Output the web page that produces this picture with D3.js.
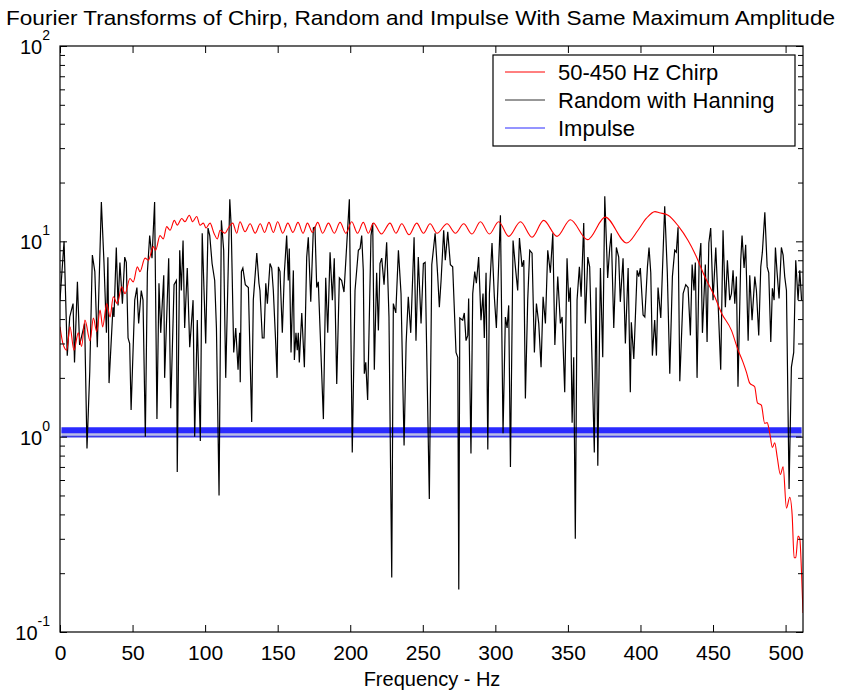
<!DOCTYPE html>
<html>
<head>
<meta charset="utf-8">
<script src="https://cdn.jsdelivr.net/npm/d3@7/dist/d3.min.js"></script>
<style>
body{margin:0;background:#fff;}
text{font-family:"Liberation Sans",Arial,Helvetica,sans-serif;fill:#000;}
</style>
</head>
<body>
<svg id="chart" width="856" height="693"></svg>
<script>
// 数据
var xTicks = [0, 50, 100, 150, 200, 250, 300, 350, 400, 450, 500];
var yDecades = [0.1, 1, 10, 100];
var yExponents = ["-1", "0", "1", "2"];

var chirpFreq = [0, 2, 4.6, 6.9, 9.6, 12.6, 14.9, 17.2, 20.7, 23, 25.3, 27.6, 29.4, 32.2, 34.5, 36.7, 39.5, 42.5, 44.8, 48.2,
  50.5, 53.3, 55.1, 58.6, 60.9, 64.3, 65.9, 68.9, 71.2, 73.5, 75.8, 78.8, 80.8, 83.9, 86.1, 89.1, 91.4, 94.2, 96.5, 98.8,
  100.6, 103.4, 106.1, 108.4, 110.3, 113.7, 116, 119, 121.8, 124, 127.5, 131, 134.5, 138, 141, 144, 147, 150, 153.5, 157,
  160.5, 164, 167.5, 170.5, 174, 177.6, 181, 185, 189, 193, 197, 201, 205, 209, 212.5, 216, 221.5, 227.4, 231.5, 235.5,
  240.5, 245.8, 250.5, 255, 259.8, 266.7, 272.5, 278.2, 283.9, 289.7, 295.9, 302.3, 309.2, 317.3, 325.3, 333.3, 342.5, 351.7, 363.5, 375.7,
  390.5, 398.3, 404, 410, 413, 419, 426, 432.8, 437.4, 444.3, 451.2, 455.8, 462.7, 467.3, 470.7, 473, 475.3, 478.7, 480.6, 483.3,
  485.6, 487.3, 489.1, 490.9, 492.5, 494.3, 496.4, 498.3, 500.6, 502.9, 504.5, 505.9, 507, 508.6, 509.8, 511, 512];
var chirpAmp = [3.65, 3.0, 2.77, 3.65, 2.77, 3.4, 2.9, 3.95, 3.1, 4.05, 3.45, 4.45, 3.65, 4.8, 4.1, 5.2, 4.8, 5.85, 5.4, 6.45,
  6.2, 7.4, 7.0, 8.2, 8.0, 9.4, 9.0, 10.7, 10.3, 11.9, 11.4, 12.8, 12.1, 13.1, 12.6, 13.6, 12.6, 13.4, 12.1, 12.4,
  11.7, 12.4, 11.0, 10.3, 11.4, 11.0, 11.7, 12.4, 11.0, 12.6, 11.2, 12.3, 11.0, 12.3, 11.1, 12.5, 11.1, 12.6, 11.0, 12.4,
  11.1, 12.5, 11.0, 12.4, 11.1, 12.5, 11.0, 12.4, 11.0, 12.5, 11.0, 12.6, 11.0, 12.5, 11.0, 12.4, 10.9, 12.4, 11.0, 12.3,
  10.8, 12.4, 11.0, 12.3, 11.0, 12.3, 11.0, 12.3, 10.9, 12.6, 10.9, 12.6, 10.6, 12.6, 10.5, 12.8, 10.6, 12.9, 10.2, 13.3,
  9.8, 11.4, 13.1, 14.2, 14.0, 13.6, 12.0, 10.1, 8.7, 6.6, 5.2, 4.3, 3.5, 2.77, 2.4, 2.14, 1.88, 1.8, 1.49, 1.45,
  1.17, 1.18, 1.04, 0.88, 0.93, 0.78, 0.64, 0.70, 0.43, 0.49, 0.40, 0.24, 0.24, 0.31, 0.30, 0.20, 0.125];

var randomFreq = [0, 2.8, 5, 6.7, 9, 10, 12, 13.5, 17, 18.6, 20.5, 22.3, 24, 25.7, 28.5, 30.3, 32, 33, 33.8, 36.5,
  37.2, 38.8, 40, 41.3, 43, 44.6, 45.7, 46.9, 48, 49, 51.5, 53, 54.2, 56, 57.2, 58.8, 60.2, 61.8, 63.4, 65.2,
  66.8, 68.2, 69.4, 71.5, 72.1, 74.9, 76.3, 78.6, 80.2, 80.8, 82.5, 83.6, 84.8, 85.9, 87.7, 89.4, 91.7, 92.8, 94.6, 96.7,
  98, 100.4, 102, 103.2, 104.8, 106.6, 107.8, 109.6, 111.2, 112.8, 114.2, 117, 118, 119.7, 121.1, 122.7, 123.8, 124.2, 125, 126,
  127.7, 129.8, 132.1, 133.2, 135.6, 137.1, 137.8, 139.4, 140.6, 141.8, 142.9, 144.7, 145.9, 147, 148.7, 149.6, 150.5, 151.6, 153.2, 154.6,
  156.2, 157.3, 158, 159.2, 160.8, 161.5, 162.6, 163.5, 164.2, 164.9, 166.6, 168.4, 170, 171.1, 172.8, 174.6, 175.7, 176.9, 178, 181.5,
  183.1, 184.5, 186.1, 187.7, 189, 190.7, 192.5, 194.1, 195.7, 197.1, 199.4, 201.4, 203.3, 205.6, 206.8, 207.9, 209, 209.7, 210.7, 212,
  214.3, 215.5, 216.6, 218.2, 219.4, 220.5, 221.7, 223.3, 225.1, 226.7, 228.6, 229.7, 231.4, 233.2, 235, 237.1, 238.5, 240, 241.7, 244,
  245.3, 246.9, 248.8, 250.4, 251.6, 254.5, 256.2, 258.5, 260.3, 261.4, 262.6, 264.4, 265.5, 267.2, 269, 270.6, 272.9, 274.1, 274.8, 275.5,
  277.5, 278.6, 279.8, 281, 281.6, 283.2, 284.4, 285.8, 286.9, 288.5, 290.1, 291.5, 292.4, 293.6, 294.8, 295.9, 297.7, 299.3, 300.7, 303.5,
  305.3, 306.9, 308.1, 309.2, 310.4, 312.2, 313.8, 315.4, 316.6, 318.4, 319.6, 320.7, 322.3, 323.7, 325.3, 326.9, 328.3, 329.9, 331.5, 332.9,
  334.5, 336.1, 337.9, 339.6, 341, 343, 344.8, 346, 347.8, 349.4, 350.6, 351.7, 352.9, 354, 355.1, 356.3, 357.9, 359.1, 360.9, 362,
  363.7, 365, 366.6, 368.2, 369.4, 370.6, 372.4, 374, 375.4, 377.4, 378.8, 379.9, 381.6, 383.4, 385, 386.1, 388, 389.6, 391.5, 393,
  393.7, 395.4, 397.7, 398.8, 399.9, 401.8, 403, 404.8, 405.9, 407.1, 408.2, 409.8, 411, 412.1, 414, 416.7, 418.5, 420.2, 422, 423.6,
  424.7, 425.9, 427.1, 429.4, 431.2, 432.8, 434.4, 435.6, 436.9, 437.8, 439, 440.4, 441.6, 442.7, 444.7, 445.9, 447.1, 448.4, 450, 451.9,
  453.5, 455.3, 456.9, 458.5, 459.9, 461.5, 462.7, 463.8, 465, 466.1, 467.2, 469.1, 470, 471.4, 472.5, 474.2, 475.3, 476.9, 478.8, 479.9,
  481.5, 482.9, 484, 485.7, 487.3, 488.4, 489.8, 490.9, 492.1, 493, 494.1, 495.5, 497.1, 498.3, 499.4, 500.6, 502.4, 504, 505.6, 507,
  508.6, 509.8, 511];
var randomAmp = [5.0, 10, 2.6, 4.1, 4.8, 2.4, 6.2, 2.95, 3.8, 0.87, 2.15, 8.5, 7.0, 2.87, 15.9, 7.8, 3.4, 8.3, 1.88, 4.6,
  4.1, 9.3, 4.7, 7.8, 4.8, 8.3, 7.8, 3.2, 3.0, 1.37, 5.0, 5.8, 3.8, 5.6, 5.0, 1.0, 6.9, 10.7, 8.2, 15.9,
  1.23, 6.1, 3.4, 6.7, 2.0, 8.2, 1.4, 6.0, 6.3, 0.66, 9.0, 5.6, 10.1, 3.6, 7.3, 2.87, 5.0, 1.0, 3.95, 0.95,
  11.0, 3.0, 11.7, 10.7, 7.7, 6.3, 3.6, 0.5, 12.8, 9.0, 2.0, 16.4, 11.8, 2.7, 3.6, 2.2, 3.4, 1.9, 7.0, 7.3,
  6.0, 5.8, 1.19, 5.0, 8.7, 6.1, 5.6, 3.2, 3.2, 6.1, 4.8, 7.7, 7.3, 5.6, 2.95, 2.0, 7.4, 7.0, 3.4, 6.9,
  10.7, 6.3, 9.2, 2.7, 7.1, 2.47, 3.4, 2.77, 3.4, 2.4, 4.3, 2.27, 8.3, 10.5, 4.9, 11.7, 11.8, 5.8, 6.2, 1.23,
  6.5, 3.4, 8.8, 5.0, 8.2, 1.86, 6.5, 6.3, 5.5, 8.3, 16.4, 0.83, 5.6, 9.0, 9.2, 10.7, 7.1, 2.1, 2.4, 1.54,
  10.7, 12.4, 2.2, 6.9, 3.5, 7.7, 8.2, 6.0, 9.9, 4.1, 0.19, 4.8, 4.3, 9.0, 5.4, 0.9, 3.0, 5.2, 3.4, 10.5,
  3.1, 8.3, 3.8, 7.7, 7.8, 0.48, 7.6, 11.0, 6.6, 4.6, 6.3, 11.4, 8.0, 11.2, 7.6, 7.4, 2.7, 2.55, 0.165, 4.05,
  3.95, 4.3, 3.1, 3.3, 5.1, 0.82, 5.4, 7.0, 6.1, 8.3, 3.95, 5.4, 3.2, 6.9, 0.86, 5.4, 9.8, 5.2, 3.6, 13.6,
  1.04, 4.1, 3.6, 4.7, 0.7, 10.1, 7.4, 5.6, 10.4, 7.4, 8.0, 1.57, 5.0, 9.0, 8.7, 2.7, 4.8, 3.8, 2.27, 5.2,
  3.8, 9.0, 6.9, 11.0, 2.95, 6.6, 3.8, 4.1, 1.69, 8.2, 4.9, 5.8, 1.18, 2.55, 0.3, 5.0, 7.4, 5.2, 12.4, 3.8,
  8.3, 7.4, 2.5, 0.83, 5.8, 0.71, 7.3, 2.55, 17.0, 6.5, 9.2, 11.0, 3.6, 9.3, 8.3, 4.9, 8.2, 3.0, 7.3, 1.69,
  3.85, 2.5, 7.1, 6.6, 7.3, 4.2, 4.1, 7.4, 9.3, 6.9, 2.6, 3.95, 2.6, 5.8, 4.05, 15.1, 6.9, 2.1, 6.6, 9.0,
  8.8, 11.8, 1.92, 5.4, 6.0, 5.8, 3.3, 7.6, 5.6, 7.8, 2.0, 7.8, 9.8, 3.4, 7.6, 3.05, 9.8, 11.7, 5.0, 9.3,
  4.8, 2.2, 11.4, 4.6, 8.0, 5.0, 5.4, 7.1, 4.8, 6.6, 1.8, 8.0, 10.7, 7.3, 9.6, 3.1, 6.7, 3.95, 6.6, 5.6,
  3.3, 7.4, 8.8, 14.1, 7.4, 6.9, 3.05, 5.75, 5.0, 9.3, 7.0, 5.1, 9.3, 8.5, 6.6, 5.6, 0.54, 2.27, 2.7, 8.0,
  5.0, 7.1, 5.0];

var impulseFreq = [1, 511];
var impulseUpper = [1.08, 1.08];
var impulseLower = [1.0, 1.0];

var legendNames = ["50-450 Hz Chirp", "Random with Hanning", "Impulse"];
var legendColors = ["#ff0000", "#303030", "#2a2aff"];

var svg = d3.select("#chart");
var pLeft = 60, pRight = 803, pTop = 46, pBottom = 632;

var x = d3.scaleLinear().domain([0, 512]).range([pLeft, pRight]);
var y = d3.scaleLog().domain([0.1, 100]).range([pBottom, pTop]);

// 次刻度
var minorTicks = [];
yDecades.slice(0, 3).forEach(function (d) {
  for (var k = 2; k <= 9; k++) minorTicks.push(d * k);
});

svg.append("clipPath").attr("id", "clip")
  .append("rect").attr("x", pLeft).attr("y", pTop).attr("width", pRight - pLeft).attr("height", pBottom - pTop);

var plot = svg.append("g").attr("clip-path", "url(#clip)");

// impulse band
var impulse = impulseFreq.map(function (f, i) { return { f: f, hi: impulseUpper[i], lo: impulseLower[i] }; });
plot.append("path").datum(impulse)
  .attr("d", d3.area().x(function (d) { return x(d.f); }).y0(function (d) { return y(d.lo); }).y1(function (d) { return y(d.hi); }))
  .attr("fill", "#b9bce6");
plot.append("path").datum(impulse)
  .attr("d", d3.line().x(function (d) { return x(d.f); }).y(function (d) { return y(d.hi); }))
  .attr("fill", "none").attr("stroke", "#2a2aff").attr("stroke-width", 6);
plot.append("path").datum(impulse)
  .attr("d", d3.line().x(function (d) { return x(d.f); }).y(function (d) { return y(d.lo); }))
  .attr("fill", "none").attr("stroke", "#3a3ae8").attr("stroke-width", 1.6);

// random
var random = randomFreq.map(function (f, i) { return [f, randomAmp[i]]; });
plot.append("path").datum(random)
  .attr("d", d3.line().x(function (d) { return x(d[0]); }).y(function (d) { return y(d[1]); }))
  .attr("fill", "none").attr("stroke", "#000").attr("stroke-width", 1.2).attr("stroke-linejoin", "miter");

// chirp
var chirp = chirpFreq.map(function (f, i) { return [f, chirpAmp[i]]; });
plot.append("path").datum(chirp)
  .attr("d", d3.line().curve(d3.curveMonotoneX).x(function (d) { return x(d[0]); }).y(function (d) { return y(d[1]); }))
  .attr("fill", "none").attr("stroke", "#ff0000").attr("stroke-width", 1.1);

// axes
var tl = 7;
svg.append("g").attr("transform", "translate(0," + pBottom + ")")
  .call(d3.axisBottom(x).tickValues(xTicks).tickSizeInner(-tl).tickSizeOuter(0).tickPadding(13).tickFormat(d3.format("d")))
  .call(function (g) { g.select(".domain").remove(); g.selectAll("text").attr("font-size", 21).attr("font-family", "Liberation Sans, Arial, sans-serif"); });
svg.append("g").attr("transform", "translate(0," + pTop + ")")
  .call(d3.axisTop(x).tickValues(xTicks).tickSizeInner(-tl).tickSizeOuter(0).tickFormat(""))
  .call(function (g) { g.select(".domain").remove(); });

[[d3.axisLeft, pLeft], [d3.axisRight, pRight]].forEach(function (a) {
  svg.append("g").attr("transform", "translate(" + a[1] + ",0)")
    .call(a[0](y).tickValues(yDecades).tickSizeInner(-tl).tickSizeOuter(0).tickFormat(""))
    .call(function (g) { g.select(".domain").remove(); });
  svg.append("g").attr("transform", "translate(" + a[1] + ",0)")
    .call(a[0](y).tickValues(minorTicks).tickSizeInner(-5).tickSizeOuter(0).tickFormat(""))
    .call(function (g) { g.select(".domain").remove(); });
});

svg.append("rect").attr("x", pLeft).attr("y", pTop).attr("width", pRight - pLeft).attr("height", pBottom - pTop)
  .attr("fill", "none").attr("stroke", "#000").attr("stroke-width", 1.2);

// y labels 10^n
var yl = svg.append("g");
yDecades.forEach(function (d, i) {
  var t = yl.append("text").attr("x", 50).attr("y", y(d) + 8).attr("text-anchor", "end").attr("font-size", 20);
  t.append("tspan").text("10");
  t.append("tspan").attr("font-size", 14).attr("dy", -14).text(yExponents[i]);
});

// title & x label
svg.append("text").attr("x", 6).attr("y", 25).attr("font-size", 21)
  .attr("textLength", 829).attr("lengthAdjust", "spacingAndGlyphs")
  .text("Fourier Transforms of Chirp, Random and Impulse With Same Maximum Amplitude");
svg.append("text").attr("x", 432).attr("y", 686).attr("text-anchor", "middle").attr("font-size", 20)
  .text("Frequency - Hz");

// legend
var lg = svg.append("g");
lg.append("rect").attr("x", 493).attr("y", 55).attr("width", 302).attr("height", 91)
  .attr("fill", "#fff").attr("stroke", "#000").attr("stroke-width", 1.2);
legendNames.forEach(function (name, i) {
  var cy = 72 + i * 28;
  lg.append("line").attr("x1", 505).attr("x2", 545).attr("y1", cy).attr("y2", cy)
    .attr("stroke", legendColors[i]).attr("stroke-width", 1);
  lg.append("text").attr("x", 558).attr("y", cy + 8).attr("font-size", 22).text(name);
});
</script>
</body>
</html>
